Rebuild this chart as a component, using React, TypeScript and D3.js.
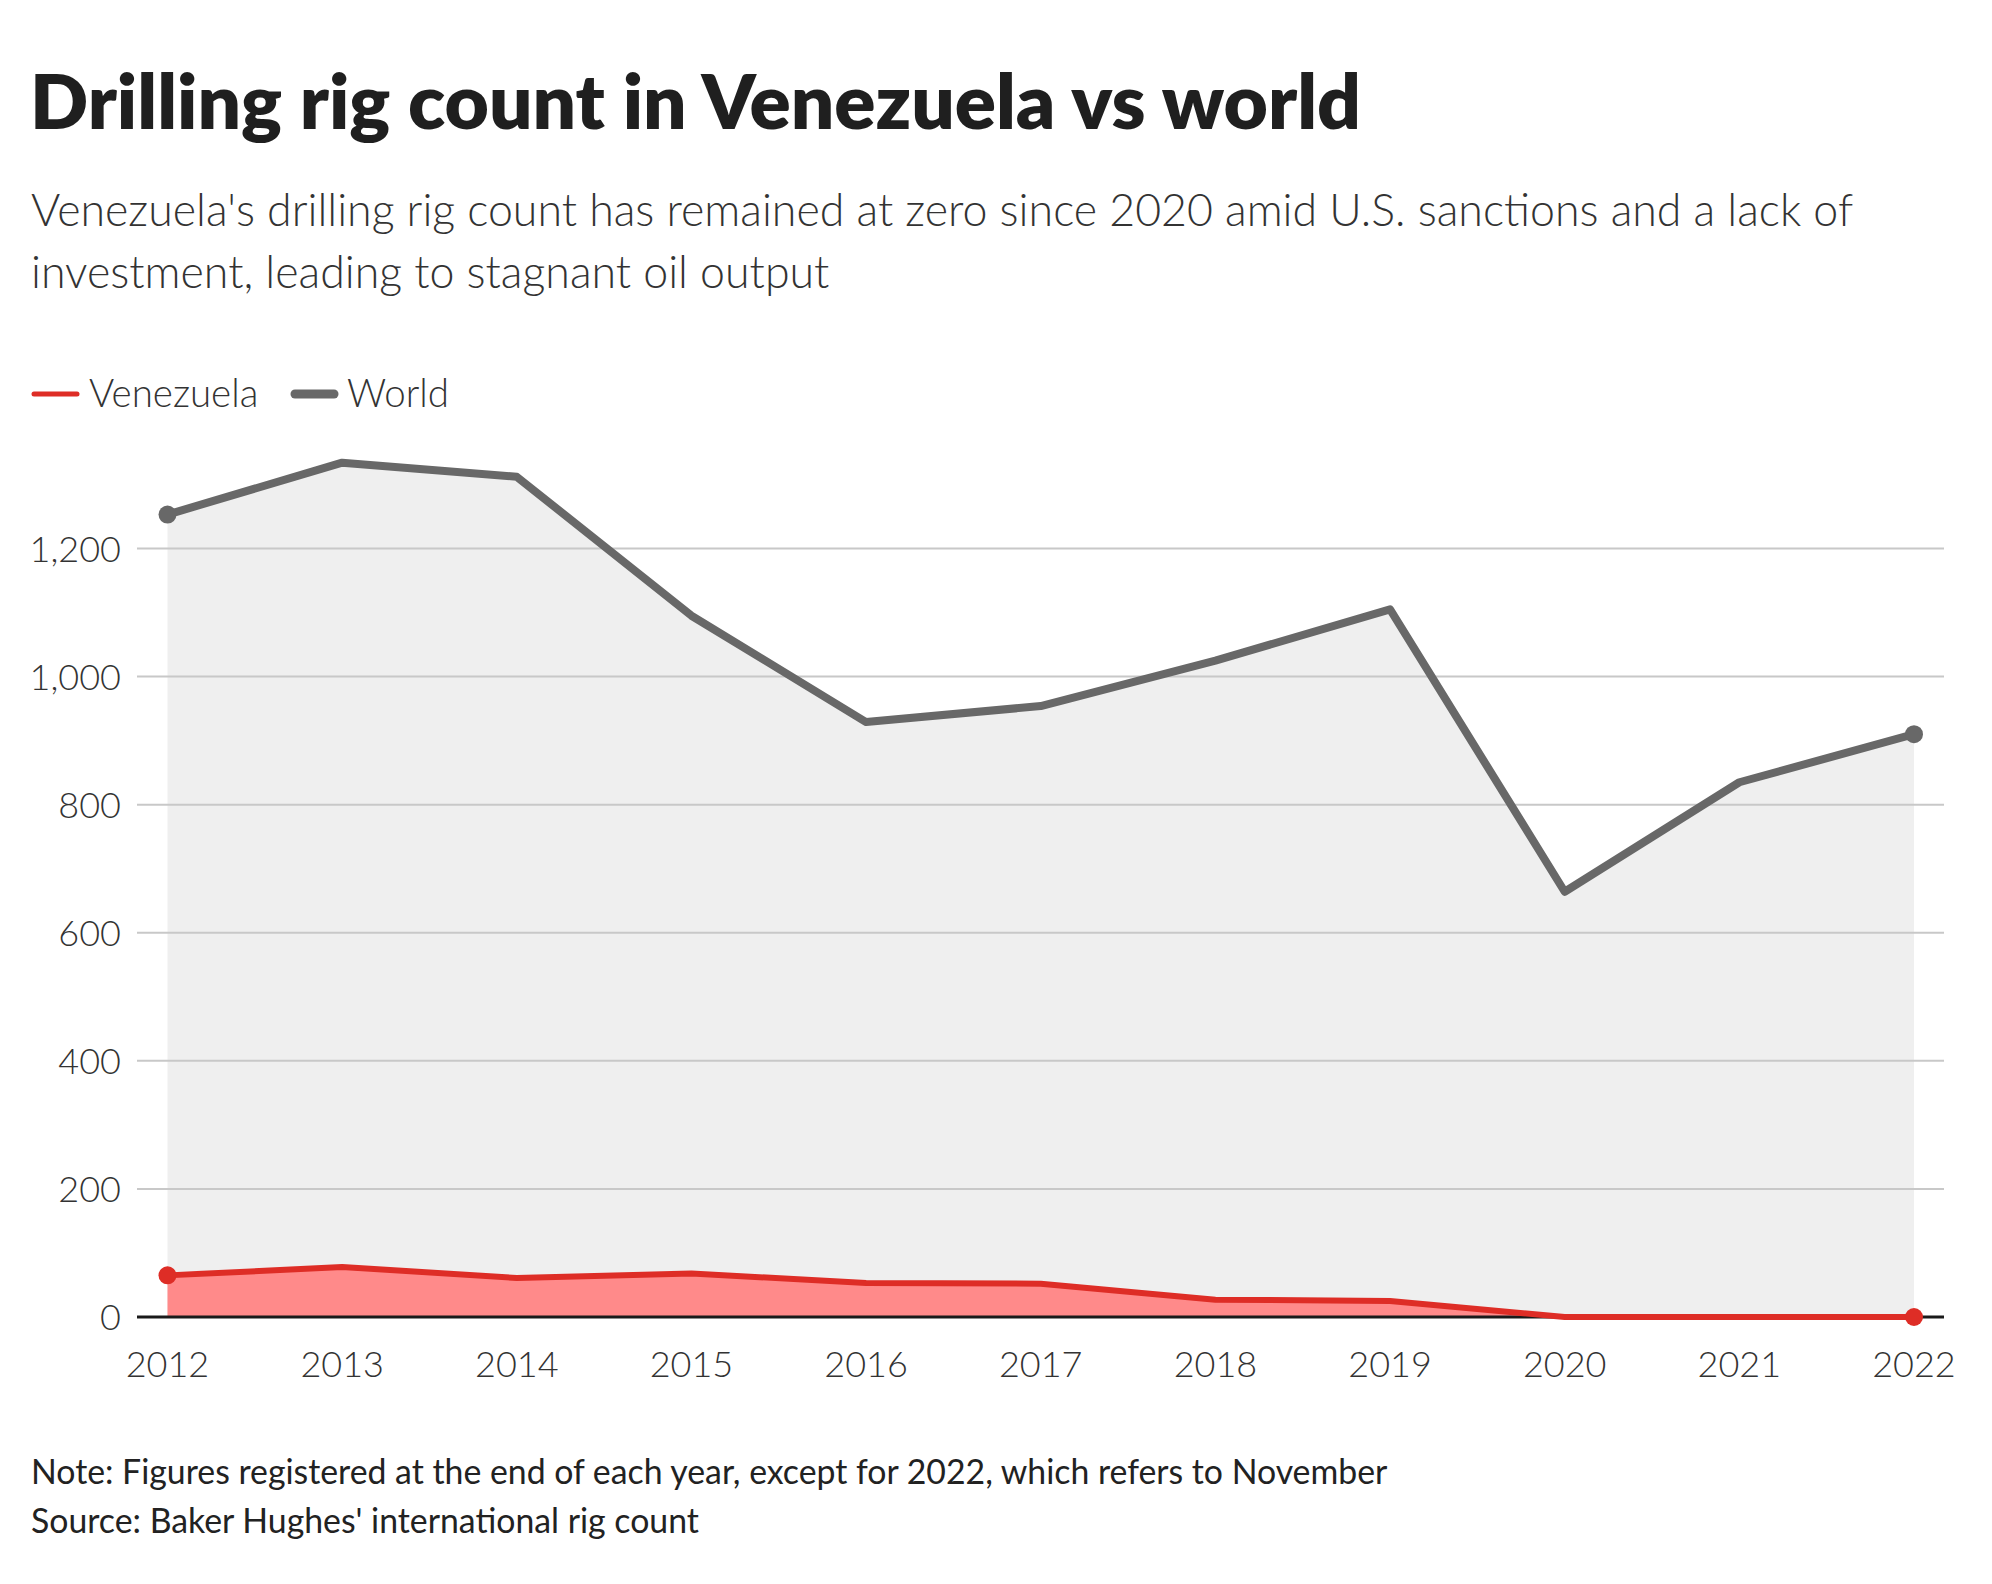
import React from "react";
import * as d3 from "d3";

const years = [2012, 2013, 2014, 2015, 2016, 2017, 2018, 2019, 2020, 2021, 2022];
const world = [1253, 1334, 1312, 1095, 929, 954, 1025, 1105, 664, 835, 910];
const venezuela = [65, 78, 61, 68, 53, 52, 27, 25, 0, 0, 0];
const yTicks = [0, 200, 400, 600, 800, 1000, 1200];

const title = "Drilling rig count in Venezuela vs world";
const subtitle1 = "Venezuela's drilling rig count has remained at zero since 2020 amid U.S. sanctions and a lack of";
const subtitle2 = "investment, leading to stagnant oil output";
const note = "Note: Figures registered at the end of each year, except for 2022, which refers to November";
const source = "Source: Baker Hughes' international rig count";

const W = 1992;
const H = 1584;
const FONT = "Lato, 'Noto Sans', sans-serif";

export default function App() {
  const x = d3.scaleLinear().domain([2012, 2022]).range([167.5, 1914]);
  const y = d3.scaleLinear().domain([0, 1200]).range([1317, 548.5]);
  const fmt = d3.format(",");

  const worldData = years.map((yr, i) => ({ yr, v: world[i] }));
  const venData = years.map((yr, i) => ({ yr, v: venezuela[i] }));

  const area = d3
    .area<{ yr: number; v: number }>()
    .x((d) => x(d.yr))
    .y0(y(0))
    .y1((d) => y(d.v));
  const line = d3
    .line<{ yr: number; v: number }>()
    .x((d) => x(d.yr))
    .y((d) => y(d.v));

  const gridX0 = 137;
  const gridX1 = 1944;
  const grey = "#686868";
  const red = "#de2d26";

  return (
    <svg width={W} height={H} style={{ display: "block", position: "absolute", left: 0, top: 0 }}>
      <rect width={W} height={H} fill="#fff" />
      <text x={30} y={129} fontFamily={FONT} fontWeight={800} fontSize={76.5} fill="#1f1f1f">
        {title}
      </text>
      <text x={31} y={226} fontFamily={FONT} fontWeight={300} fontSize={44.7} fill="#333">
        {subtitle1}
      </text>
      <text x={31} y={288} fontFamily={FONT} fontWeight={300} fontSize={44.7} fill="#333">
        {subtitle2}
      </text>

      {/* legend */}
      <line x1={34} x2={77} y1={394} y2={394} stroke={red} strokeWidth={5} strokeLinecap="round" />
      <text x={89} y={407} fontFamily={FONT} fontWeight={300} fontSize={38.5} fill="#333">
        Venezuela
      </text>
      <line x1={295} x2={334} y1={394} y2={394} stroke={grey} strokeWidth={9} strokeLinecap="round" />
      <text x={347} y={407} fontFamily={FONT} fontWeight={300} fontSize={38.5} fill="#333">
        World
      </text>

      {/* world area */}
      <path d={area(worldData) || ""} fill="#efefef" />

      {/* gridlines */}
      {yTicks
        .filter((t) => t !== 0)
        .map((t) => (
          <line key={t} x1={gridX0} x2={gridX1} y1={y(t)} y2={y(t)} stroke="#c8c8c8" strokeWidth={2} />
        ))}

      {/* venezuela area */}
      <path d={area(venData) || ""} fill="#ff8a8a" />

      {/* baseline */}
      <line x1={gridX0} x2={gridX1} y1={y(0)} y2={y(0)} stroke="#1a1a1a" strokeWidth={3} />

      {/* lines */}
      <path d={line(worldData) || ""} fill="none" stroke={grey} strokeWidth={8} strokeLinejoin="round" />
      <path d={line(venData) || ""} fill="none" stroke={red} strokeWidth={6} strokeLinejoin="round" />

      {/* end points */}
      {[0, years.length - 1].map((i) => (
        <g key={i}>
          <circle cx={x(years[i])} cy={y(world[i])} r={9} fill={grey} />
          <circle cx={x(years[i])} cy={y(venezuela[i])} r={9} fill={red} />
        </g>
      ))}

      {/* y axis labels */}
      {yTicks.map((t) => (
        <text
          key={t}
          x={121}
          y={y(t) + 13}
          textAnchor="end"
          fontFamily={FONT}
          fontWeight={300}
          fontSize={36}
          fill="#333"
        >
          {fmt(t)}
        </text>
      ))}

      {/* x axis labels */}
      {years.map((yr) => (
        <text
          key={yr}
          x={x(yr)}
          y={1377}
          textAnchor="middle"
          fontFamily={FONT}
          fontWeight={300}
          fontSize={36}
          fill="#333"
        >
          {yr}
        </text>
      ))}

      {/* footer */}
      <text x={31} y={1484} fontFamily={FONT} fontWeight={400} fontSize={33.8} fill="#222">
        {note}
      </text>
      <text x={31} y={1533} fontFamily={FONT} fontWeight={400} fontSize={33.8} fill="#222">
        {source}
      </text>
    </svg>
  );
}
